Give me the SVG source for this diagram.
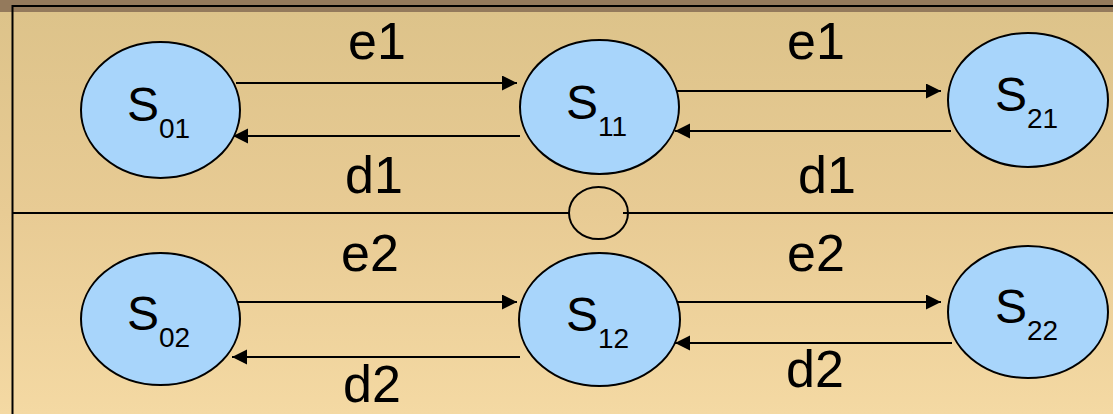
<svg xmlns="http://www.w3.org/2000/svg" width="1113" height="414" viewBox="0 0 1113 414">
  <defs>
    <linearGradient id="bg" x1="0" y1="12" x2="0" y2="414" gradientUnits="userSpaceOnUse">
      <stop offset="0" stop-color="#ddc38a"/>
      <stop offset="0.5" stop-color="#e8cb94"/>
      <stop offset="1" stop-color="#f4d9a3"/>
    </linearGradient>
    <marker id="arrow" markerUnits="userSpaceOnUse" markerWidth="16" markerHeight="16" refX="15" refY="7.5" orient="auto">
      <path d="M0,0 L15,7.5 L0,15 z" fill="#000"/>
    </marker>
    <style>
      .state { fill: #a8d5fb; stroke: #000; stroke-width: 2; }
      .name { font-family: "Liberation Sans", Arial, sans-serif; font-size: 48px; fill: #000; }
      .sub { font-size: 28px; }
      .edge { stroke: #000; stroke-width: 2; fill: none; marker-end: url(#arrow); }
      .label { font-family: "Liberation Sans", Arial, sans-serif; font-size: 52px; fill: #000; text-anchor: middle; }
      .frame { stroke: #000; stroke-width: 2; fill: none; }
    </style>
  </defs>

  <!-- background and frame -->
  <rect x="0" y="0" width="1113" height="414" fill="url(#bg)"/>
  <rect x="0" y="0" width="1113" height="12" fill="#947a5c"/>
  <g id="frame">
    <line class="frame" x1="12" y1="6" x2="1113" y2="6"/>
    <line class="frame" x1="12.5" y1="5" x2="12.5" y2="414"/>
    <line class="frame" x1="12" y1="213" x2="570" y2="213"/>
    <line class="frame" x1="623" y1="213" x2="1113" y2="213"/>
  </g>

  <!-- junction between the two chains -->
  <g id="junction">
    <ellipse cx="598.5" cy="213" rx="29.5" ry="26" fill="none" stroke="#000" stroke-width="2"/>
  </g>

  <!-- connectors -->
  <g id="connectors">
    <line class="edge" x1="236" y1="83" x2="517" y2="83"/>
    <line class="edge" x1="520" y1="136" x2="233" y2="136"/>
    <line class="edge" x1="677" y1="91" x2="941" y2="91"/>
    <line class="edge" x1="951" y1="131" x2="675" y2="131"/>
    <line class="edge" x1="234" y1="302" x2="517" y2="302"/>
    <line class="edge" x1="520" y1="357" x2="232" y2="357"/>
    <line class="edge" x1="677" y1="302" x2="941" y2="302"/>
    <line class="edge" x1="952" y1="343" x2="675" y2="343"/>
    <text class="label" x="377" y="59">e1</text>
    <text class="label" x="374" y="193">d1</text>
    <text class="label" x="816" y="59">e1</text>
    <text class="label" x="827" y="193">d1</text>
    <text class="label" x="370" y="271">e2</text>
    <text class="label" x="372" y="402">d2</text>
    <text class="label" x="816" y="271">e2</text>
    <text class="label" x="815" y="387">d2</text>
  </g>

  <!-- states -->
  <g id="s01">
    <ellipse class="state" cx="160.5" cy="110" rx="79.5" ry="68"/>
    <text class="name" x="127" y="121">S<tspan class="sub" dy="17">01</tspan></text>
  </g>
  <g id="s11">
    <ellipse class="state" cx="599.5" cy="107" rx="79.5" ry="67"/>
    <text class="name" x="566" y="119">S<tspan class="sub" dy="17">11</tspan></text>
  </g>
  <g id="s21">
    <ellipse class="state" cx="1028" cy="100" rx="80" ry="67"/>
    <text class="name" x="995" y="111">S<tspan class="sub" dy="17">21</tspan></text>
  </g>
  <g id="s02">
    <ellipse class="state" cx="160.5" cy="319" rx="79.5" ry="66"/>
    <text class="name" x="127" y="330">S<tspan class="sub" dy="17">02</tspan></text>
  </g>
  <g id="s12">
    <ellipse class="state" cx="599.5" cy="319.5" rx="80.5" ry="66.5"/>
    <text class="name" x="566" y="331">S<tspan class="sub" dy="17">12</tspan></text>
  </g>
  <g id="s22">
    <ellipse class="state" cx="1028" cy="312" rx="80" ry="66"/>
    <text class="name" x="995" y="323">S<tspan class="sub" dy="17">22</tspan></text>
  </g>
</svg>
